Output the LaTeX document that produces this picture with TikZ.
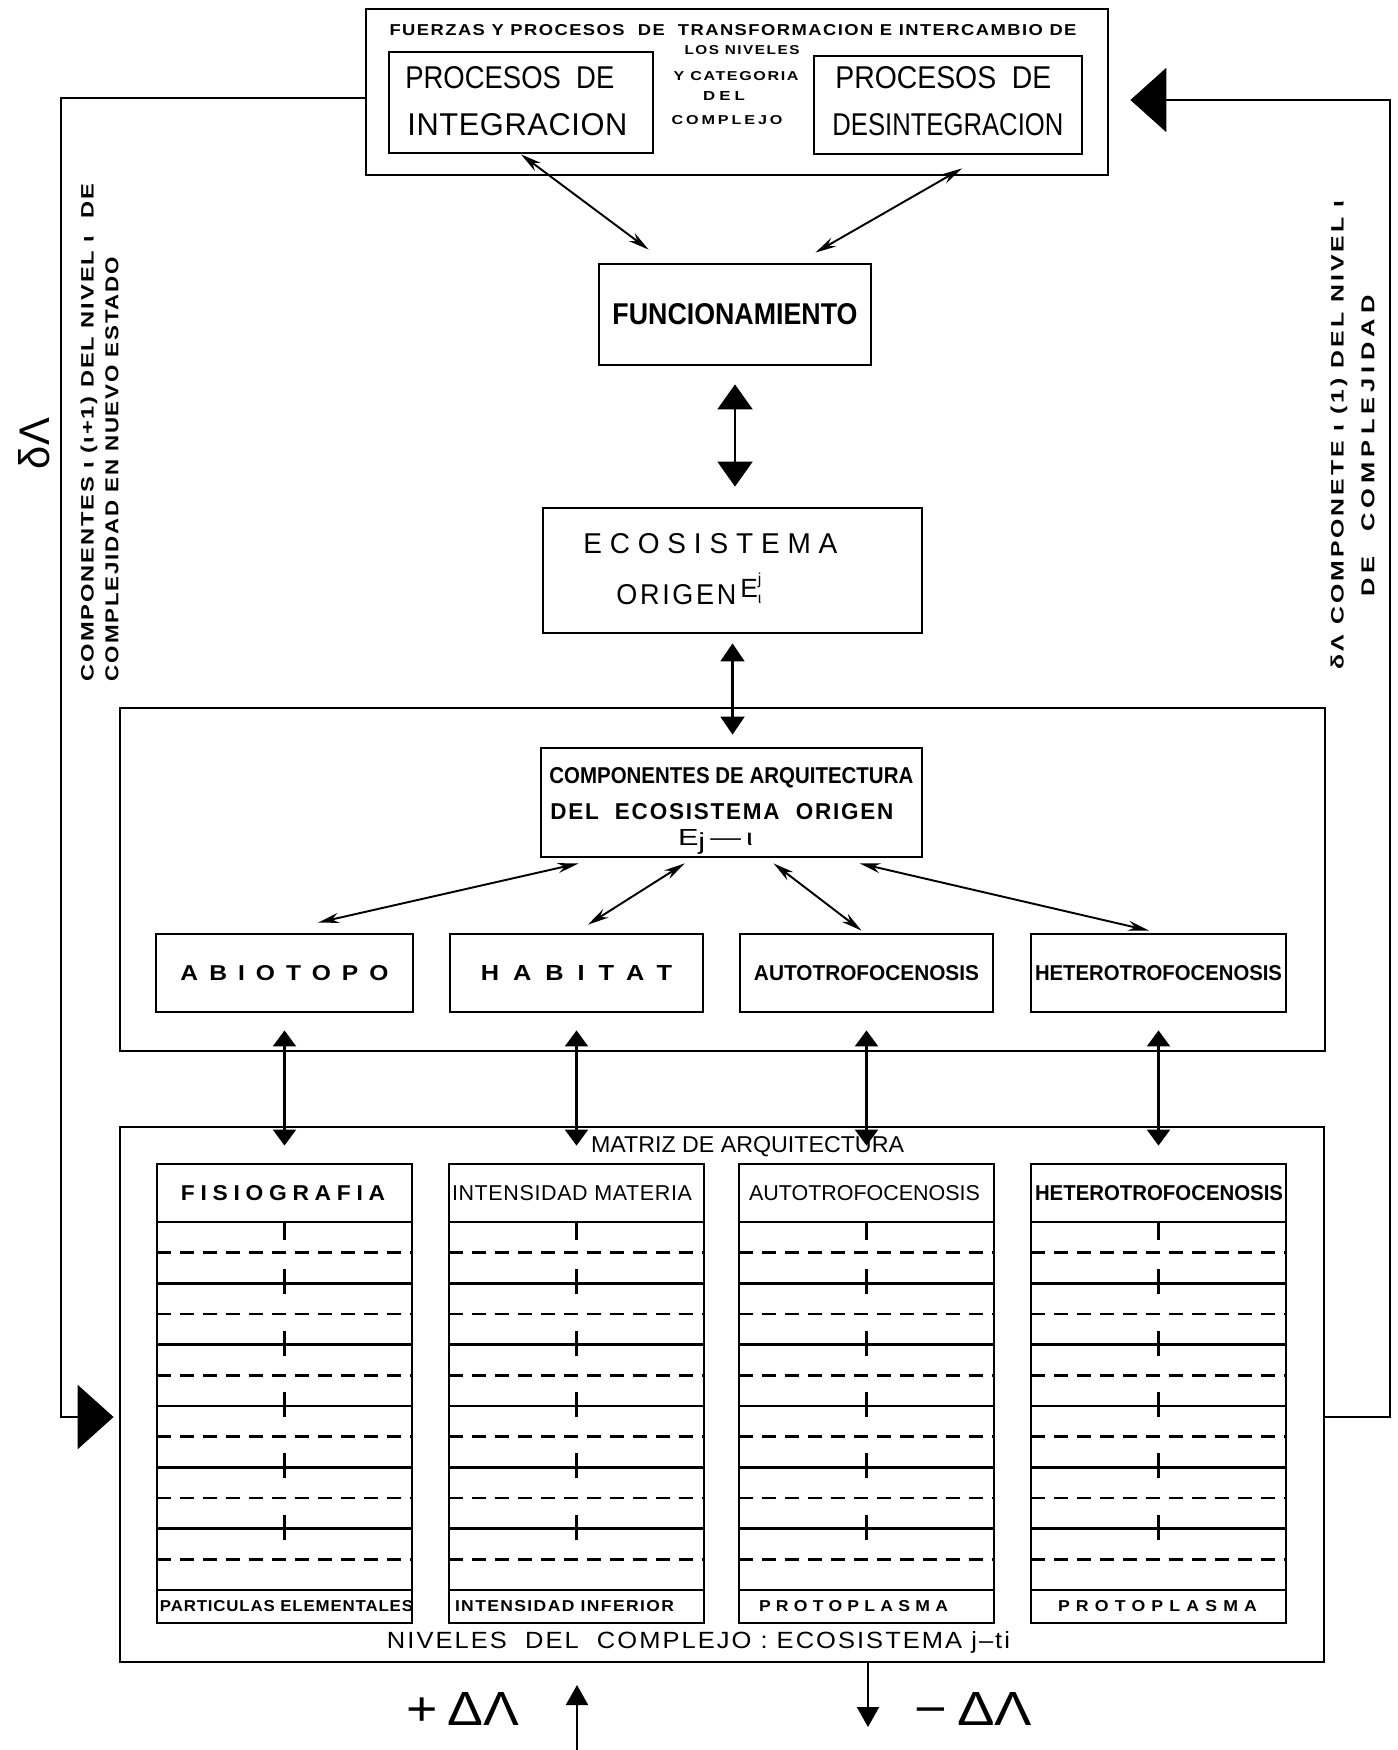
\documentclass[tikz,border=0pt]{standalone}
\usepackage{fontspec}
\setmainfont{Liberation Sans}
\usepackage{graphicx}
\usetikzlibrary{arrows.meta}

\newlength{\pxu}
\setlength{\pxu}{0.02cm}
% texto escalado: ancho y alto en px
\newcommand{\etiq}[3]{\resizebox{#1\pxu}{#2\pxu}{#3}}
\newcommand{\trk}[1]{\addfontfeatures{LetterSpace=#1}}

\begin{document}
\begin{tikzpicture}[x=0.02cm, y=-0.02cm]
  \tikzset{
    caja/.style={draw, line width=1.6pt, inner sep=0pt},
    tam/.style 2 args={minimum width=#1\pxu, minimum height=#2\pxu},
    txt/.style={inner sep=0pt},
    fila/.style={line width=1.4pt},
    guion/.style={line width=1.4pt, dash pattern=on 0.28cm off 0.18cm},
    diag/.style={line width=1.1pt, >={Stealth[length=0.42cm, width=0.2cm]}, <->},
    grande/.style={line width=1.2pt, >={Triangle[length=0.5cm, width=0.7cm]}, <->},
    medio/.style={line width=1.2pt, >={Triangle[length=0.36cm, width=0.48cm]}, <->},
    vert/.style={line width=1.2pt, >={Triangle[length=0.32cm, width=0.46cm]}, <->},
    retro/.style={line width=1.6pt, >={Triangle[length=0.72cm, width=1.28cm]}, ->},
    simple/.style={line width=1.2pt, >={Triangle[length=0.4cm, width=0.44cm]}, ->},
  }
  \useasboundingbox (0,0) rectangle (1398,1750);

  % procesos
  \node[caja, tam={742}{166}] (top) at (737,92) {};
  \node[caja, tam={264}{101}] (integ) at (521,102.5) {};
  \node[caja, tam={268}{98}] (desint) at (948,105) {};
  \node[txt] (titulo) at (733,30) {\etiq{687}{11}{\bfseries\trk{8}FUERZAS Y PROCESOS\ \ DE\ \ TRANSFORMACION E INTERCAMBIO DE}};
  \node[txt, anchor=west] (integ1) at (405,78) {\etiq{209}{22}{PROCESOS\ \ DE}};
  \node[txt, anchor=west] (integ2) at (407,125) {\etiq{220}{22}{\trk{2}INTEGRACION}};
  \node[txt, anchor=west] (desint1) at (835,78) {\etiq{216}{22}{PROCESOS\ \ DE}};
  \node[txt, anchor=west] (desint2) at (832,125) {\etiq{231}{22}{DESINTEGRACION}};
  \node[txt] (niv1) at (742,50) {\etiq{115}{9}{\bfseries\trk{10}LOS NIVELES}};
  \node[txt] (niv2) at (736,76) {\etiq{125}{9}{\bfseries\trk{10}Y CATEGORIA}};
  \node[txt] (niv3) at (724,96) {\etiq{42}{9}{\bfseries\trk{25}DEL}};
  \node[txt] (niv4) at (727,120) {\etiq{111}{9}{\bfseries\trk{18}COMPLEJO}};

  \node[caja, tam={272}{101}] (func) at (735,314.5) {\etiq{245}{21}{\bfseries FUNCIONAMIENTO}};

  \node[caja, tam={379}{125}] (eco) at (732.5,570.5) {};
  \node[txt, anchor=west] (eco1) at (583,544) {\etiq{254}{20}{\trk{28}ECOSISTEMA}};
  \node[txt, anchor=west] (eco2) at (616,595) {\etiq{120}{20}{\trk{10}ORIGEN}};
  \node[txt, anchor=base west] (eco3) at (740,597) {\fontsize{15}{15}\selectfont E\raisebox{0.9ex}{\rlap{\fontsize{9}{9}\selectfont j}}\raisebox{-0.5ex}{\fontsize{9}{9}\selectfont ι}};

  % arquitectura
  \node[caja, tam={1205}{343}] (marco) at (722.5,879.5) {};
  \node[caja, tam={381}{109}] (comp) at (731.5,802.5) {};
  \node[txt, anchor=west] (comp1) at (549,778) {\etiq{364}{16}{\bfseries COMPONENTES DE ARQUITECTURA}};
  \node[txt, anchor=west] (comp2) at (550,812) {\etiq{343}{16}{\bfseries\trk{8}DEL\ \ ECOSISTEMA\ \ ORIGEN}};
  \node[txt] (comp3) at (715.5,842) {\etiq{75}{16}{E\raisebox{-0.35ex}{j}\,—\,ι}};

  \node[caja, tam={257}{78}] (abio) at (284.5,973) {\etiq{208}{15}{\bfseries\trk{45}ABIOTOPO}};
  \node[caja, tam={253}{78}] (habit) at (576.5,973) {\etiq{191}{15}{\bfseries\trk{55}HABITAT}};
  \node[caja, tam={253}{78}] (autot) at (866.5,973) {\etiq{225}{15}{\bfseries AUTOTROFOCENOSIS}};
  \node[caja, tam={255}{78}] (heter) at (1158.5,973) {\etiq{247}{15}{\bfseries HETEROTROFOCENOSIS}};

  % matriz
  \node[caja, tam={1204}{535}] (matriz) at (722,1394.5) {};
  \node[txt] (matriztxt) at (747.5,1147) {\etiq{313}{16}{MATRIZ DE ARQUITECTURA}};
  \foreach \i/\xc in {1/284.5, 2/576.5, 3/866.5, 4/1158.5} {
    \node[caja, tam={255}{459}] (col\i) at (\xc,1393.5) {};
    \foreach \k in {0,...,6}
      \draw[fila] ({\xc-127.5},{1222+\k*61.33}) -- ++(255,0);
    \foreach \k in {0,...,5}
      \draw[guion] ({\xc-127.5},{1252.7+\k*61.33}) -- ++(255,0);
    \draw[fila] (\xc,1222) -- (\xc,1240);
    \foreach \k in {1,...,5}
      \draw[fila] (\xc,{1208+\k*61.33}) -- (\xc,{1233+\k*61.33});
  }
  \node[txt] (cab1) at (283,1193) {\etiq{204}{15}{\bfseries\trk{25}FISIOGRAFIA}};
  \node[txt] (cab2) at (572,1193) {\etiq{240}{15}{\trk{3}INTENSIDAD MATERIA}};
  \node[txt] (cab3) at (864.5,1193) {\etiq{231}{15}{AUTOTROFOCENOSIS}};
  \node[txt] (cab4) at (1159,1193) {\etiq{248}{15}{\bfseries HETEROTROFOCENOSIS}};
  \node[txt] (pie1) at (286.5,1606) {\etiq{253}{11}{\bfseries\trk{5}PARTICULAS ELEMENTALES}};
  \node[txt] (pie2) at (564.5,1606) {\etiq{219}{11}{\bfseries\trk{8}INTENSIDAD INFERIOR}};
  \node[txt] (pie3) at (853.5,1606) {\etiq{189}{11}{\bfseries\trk{30}PROTOPLASMA}};
  \node[txt] (pie4) at (1157.5,1606) {\etiq{199}{11}{\bfseries\trk{35}PROTOPLASMA}};
  \node[txt] (niveles) at (698.5,1642) {\etiq{623}{17}{\trk{8}NIVELES\ \ DEL\ \ COMPLEJO : ECOSISTEMA j–ti}};

  % flechas
  \draw[diag] (integ.south) -- ([shift={(51,-13)}]func.north west);
  \draw[diag] ([shift={(14,13)}]desint.south) -- ([shift={(-57,-10)}]func.north east);
  \draw[grande, shorten <=0.36cm, shorten >=0.4cm] (func.south) -- (func.south |- eco.north);
  \draw[medio, shorten <=0.18cm, shorten >=0.24cm] (eco.south) -- (eco.south |- comp.north);
  \draw[diag] ([shift={(39,5)}]comp.south west) -- ([shift={(33.5,-10)}]abio.north);
  \draw[diag] ([shift={(145,5)}]comp.south west) -- ([shift={(11.5,-8)}]habit.north);
  \draw[diag] ([shift={(234,5)}]comp.south west) -- ([shift={(-5,-2)}]autot.north);
  \draw[diag] ([shift={(320,5)}]comp.south west) -- ([shift={(-9.5,-2)}]heter.north);
  \foreach \a/\c in {abio/col1, habit/col2, autot/col3, heter/col4}
    \draw[vert, shorten <=0.34cm, shorten >=0.34cm] (\a) -- (\c);

  % retroalimentacion
  \coordinate (izq1) at (61,98);
  \coordinate (izq2) at (61,1417);
  \draw[retro, shorten >=0.1cm] (top.west |- izq1) -- (izq1) -- (izq2) -- (izq2 -| matriz.west);
  \coordinate (der1) at (1390,100);
  \coordinate (der2) at (1390,1417);
  \draw[retro, shorten >=0.42cm] (der2 -| matriz.east) -- (der2) -- (der1) -- (der1 -| top.east);
  \node[txt, rotate=90] (delta1) at (34.5,443.5) {\etiq{51}{31}{δΛ}};
  \node[txt, rotate=90] (izqt1) at (89,432.5) {\etiq{497}{13}{\bfseries\trk{8}COMPONENTES ι (ι+1) DEL NIVEL ι\ \ DE}};
  \node[txt, rotate=90] (izqt2) at (112,469) {\etiq{424}{13}{\bfseries\trk{8}COMPLEJIDAD EN NUEVO ESTADO}};
  \node[txt, rotate=90] (dert1) at (1339,435) {\etiq{468}{13}{\bfseries\trk{12}δΛ COMPONETE ι (1) DEL NIVEL ι}};
  \node[txt, rotate=90] (dert2) at (1368,446) {\etiq{301}{13}{\bfseries\trk{20}DE\ \ COMPLEJIDAD}};

  % entradas y salidas
  \coordinate (entra) at (577,1752);
  \coordinate (entra2) at (577,1685);
  \draw[simple] (entra) -- (entra2);
  \coordinate (sale) at (868,1727);
  \draw[simple] (matriz.south -| sale) -- (sale);
  \node[txt] (mas) at (463,1709) {\etiq{112}{33}{+\,ΔΛ}};
  \node[txt] (menos) at (973.5,1709) {\etiq{117}{33}{−\,ΔΛ}};
\end{tikzpicture}
\end{document}
